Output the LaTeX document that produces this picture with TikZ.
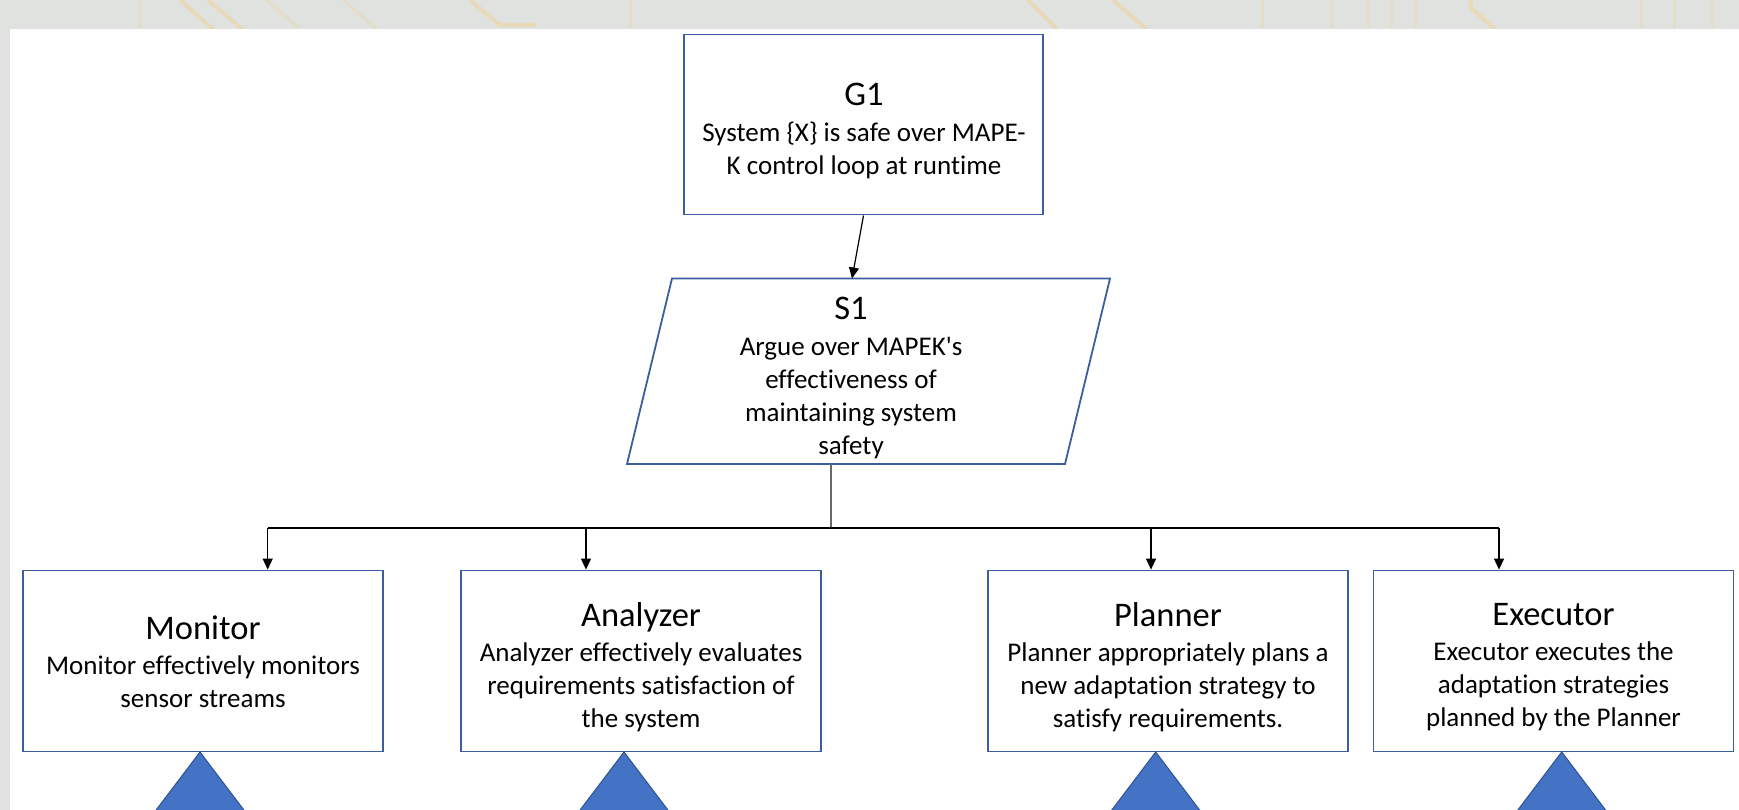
\documentclass[tikz,border=0pt]{standalone}
\usepackage{fontspec}
\setmainfont{Carlito}[Ligatures={NoCommon}]
\usetikzlibrary{arrows.meta}
\definecolor{bgray}{RGB}{224,226,224}
\definecolor{stripe}{RGB}{236,214,168}
\definecolor{boxblue}{RGB}{58,94,160}
\definecolor{trifill}{RGB}{68,114,196}
\definecolor{triedge}{RGB}{47,82,143}
\definecolor{stemgray}{RGB}{105,105,105}
\newcommand{\ttl}{\fontsize{34.5}{40}\selectfont}
\begin{document}
\begin{tikzpicture}[x=1pt,y=-1pt,
  box/.style={draw=boxblue, line width=1.8pt, fill=white, inner sep=0pt,
              minimum width=360pt, minimum height=181pt},
  pgram/.style={draw=boxblue, line width=1.8pt, fill=white},
  txt/.style={align=center, inner sep=0pt, font=\fontsize{27}{33}\selectfont},
  conn/.style={draw=black, line width=1.2pt},
  arr/.style={conn, -{Triangle[length=11pt,width=10pt]}},
  stemline/.style={draw=stemgray, line width=1.2pt},
  tri/.style={fill=trifill, draw=triedge, line width=1pt},
  strp/.style={draw=stripe, line width=4pt, opacity=0.7},
  fstrp/.style={draw=stripe, line width=3pt, opacity=0.4}]
\useasboundingbox (0,0) rectangle (1739,810);
\clip (0,0) rectangle (1739,810);
% background
\fill[bgray] (0,0) rectangle (1739,810);
\draw[strp] (180,0) -- (213,29);
\draw[strp] (208,0) -- (242,29);
\draw[fstrp] (267,0) -- (300,29);
\draw[fstrp] (343,0) -- (377,29);
\draw[strp] (470,0) -- (500,25) -- (536,25);
\draw[fstrp] (140,0) -- (140,29);
\draw[fstrp] (630,0) -- (630,29);
\draw[strp] (1028,0) -- (1057,29);
\draw[strp] (1113,0) -- (1146,29);
\draw[fstrp] (1262,0) -- (1262,29);
\draw[fstrp] (1332,0) -- (1332,29);
\draw[fstrp] (1368,0) -- (1368,29);
\draw[fstrp] (1391,0) -- (1391,29);
\draw[fstrp] (1415,0) -- (1415,29);
\draw[strp] (1471,0) -- (1471,8) -- (1495,29);
\draw[fstrp] (1641,0) -- (1641,29);
\draw[fstrp] (1674,0) -- (1674,29);
\draw[fstrp] (1712,0) -- (1712,29);
\fill[white] (10,29) rectangle (1739,810);

% G1
\node[box, minimum width=359pt, minimum height=180pt] (G1) at (863.5,124.6) {};
\node[txt] (G1t) at (864,131) {{\ttl G1}\\[2.5pt]System \{X\} is safe over MAPE-\\K control loop at runtime};

% S1 parallelogram
\coordinate (S1tl) at (672,278.5);
\coordinate (S1tr) at (1110,278.5);
\coordinate (S1br) at (1065,464);
\coordinate (S1bl) at (627,464);
\draw[pgram] (S1tl) -- (S1tr) -- (S1br) -- (S1bl) -- cycle;
\node[txt] (S1t) at (851,378) {{\ttl S1}\\[3pt]Argue over MAPEK\textquotesingle s\\effectiveness of\\maintaining system\\safety};
\coordinate (S1in) at (852,278.5);
\coordinate (S1out) at (831,464);

% bottom boxes
\node[box] (Mon) at (203,661) {};
\node[box] (Ana) at (641,661) {};
\node[box] (Pla) at (1168,661) {};
\node[box] (Exe) at (1553.5,661) {};
\node[txt] (Mont) at (203,662) {{\ttl Monitor}\\[2pt]Monitor effectively monitors\\sensor streams};
\node[txt] (Anat) at (641,667) {{\ttl Analyzer}\\[2pt]Analyzer effectively evaluates\\requirements satisfaction of\\the system};
\node[txt] (Plat) at (1168,667) {{\ttl Planner}\\[2pt]Planner appropriately plans a\\new adaptation strategy to\\satisfy requirements.};
\node[txt] (Exet) at (1553.5,667) {{\ttl Executor}\\[2pt]Executor executes the\\adaptation strategies\\planned by the Planner};

% connectors
\draw[arr] (G1.south) -- (S1in);
\coordinate (J) at (831,528);
\draw[stemline] (S1out) -- (J);
\coordinate (bM) at (267.7,528);
\coordinate (bA) at (586,528);
\coordinate (bP) at (1151,528);
\coordinate (bE) at (1499,528);
\draw[conn] (bM) -- (bE);
\draw[arr] (bM) -- (bM |- Mon.north);
\draw[arr] (bA) -- (bA |- Ana.north);
\draw[arr] (bP) -- (bP |- Pla.north);
\draw[arr] (bE) -- (bE |- Exe.north);

% triangles
\coordinate (tM) at (200,752);
\coordinate (tA) at (624,752);
\coordinate (tP) at (1155.7,752);
\coordinate (tE) at (1561.7,752);
\foreach \t in {tM,tA,tP,tE}{
  \draw[tri] (\t) -- ++(-59,78) -- ++(118,0) -- cycle;
}
\end{tikzpicture}
\end{document}
